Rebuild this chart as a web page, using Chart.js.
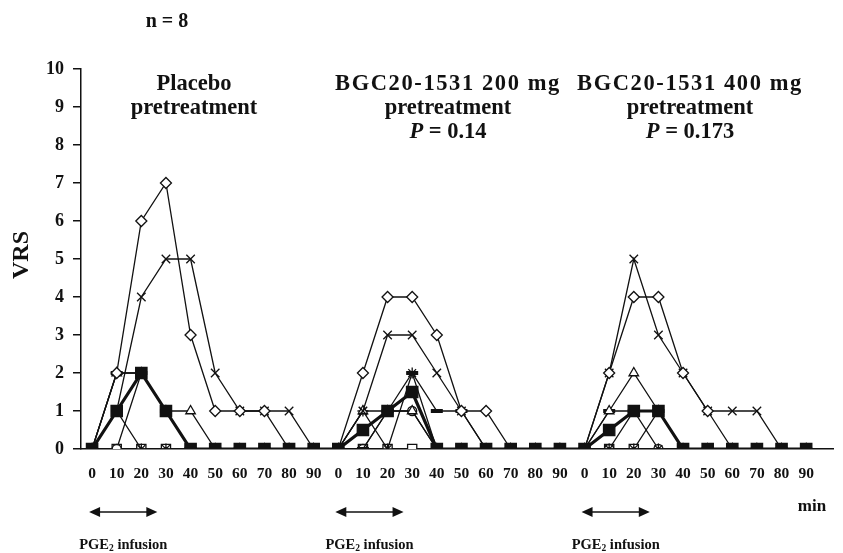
<!DOCTYPE html>
<html>
<head>
<meta charset="utf-8">
<script src="https://cdn.jsdelivr.net/npm/chart.js@4"></script>
<style>
  body { margin: 0; background: #fff; }
  #wrap { width: 843px; height: 553px; }
</style>
</head>
<body>
<div id="wrap"><canvas id="myChart" width="843" height="553"></canvas></div>
<script>
// minutes after start, repeated for each of the three panels
const times = [0, 10, 20, 30, 40, 50, 60, 70, 80, 90];
const panelTitles = [
  ["Placebo", "pretreatment"],
  ["BGC20-1531 200 mg", "pretreatment", "0.14"],
  ["BGC20-1531 400 mg", "pretreatment", "0.173"],
];
const yTicks = [0, 1, 2, 3, 4, 5, 6, 7, 8, 9, 10];

// VRS per subject: placebo | 200 mg | 400 mg (10 points each)
const median   = [0, 1, 2, 1, 0, 0, 0, 0, 0, 0,   0, 0.5, 1, 1.5, 0, 0, 0, 0, 0, 0,   0, 0.5, 1, 1, 0, 0, 0, 0, 0, 0];
const diamond  = [0, 2, 6, 7, 3, 1, 1, 1, 0, 0,   0, 2, 4, 4, 3, 1, 1, 0, 0, 0,       0, 2, 4, 4, 2, 1, 0, 0, 0, 0];
const cross    = [0, 1, 4, 5, 5, 2, 1, 1, 1, 0,   0, 1, 3, 3, 2, 1, 0, 0, 0, 0,       0, 2, 5, 3, 2, 1, 1, 1, 0, 0];
const triangle = [0, 2, 2, 1, 1, 0, 0, 0, 0, 0,   0, 1, 1, 1, 0, 0, 0, 0, 0, 0,       0, 1, 2, 1, 0, 0, 0, 0, 0, 0];
const dash     = [0, 2, 2, 1, 0, 0, 0, 0, 0, 0,   0, 0, 1, 2, 1, 1, 0, 0, 0, 0,       0, 1, 1, 1, 0, 0, 0, 0, 0, 0];
const star     = [0, 1, 0, 0, 0, 0, 0, 0, 0, 0,   0, 1, 0, 2, 0, 0, 0, 0, 0, 0,       0, 0, 0, 0, 0, 0, 0, 0, 0, 0];
const circle   = [0, 0, 2, 1, 0, 0, 0, 0, 0, 0,   0, 0, 1, 1, 0, 0, 0, 0, 0, 0,       0, 0, 1, 0, 0, 0, 0, 0, 0, 0];
const square   = [0, 0, 0, 0, 0, 0, 0, 0, 0, 0,   0, 0, 0, 0, 0, 0, 0, 0, 0, 0,       0, 0, 0, 1, 0, 0, 0, 0, 0, 0];
const plus     = [0, 0, 0, 0, 0, 0, 0, 0, 0, 0,   0, 0, 0, 0, 0, 0, 0, 0, 0, 0,       0, 0, 0, 0, 0, 0, 0, 0, 0, 0];

const serif = "'Liberation Serif', 'Times New Roman', serif";

const toPoints = (arr) => arr.map((y, i) => ({ x: i, y: y }));

const makeSet = function (label, arr, style, opts) {
  return Object.assign({
    label: label,
    data: toPoints(arr),
    borderColor: "#111",
    borderWidth: 1.3,
    pointStyle: style,
    pointRadius: 5,
    pointBorderWidth: 1.3,
    pointBorderColor: "#111",
    pointBackgroundColor: "#fff",
    tension: 0,
  }, opts || {});
};

// first dataset is drawn on top
const datasets = [
  makeSet("median", median, "rect", { borderWidth: 3.2, pointRadius: 8, pointBackgroundColor: "#111" }),
  makeSet("s1", diamond, "rectRot", { pointRadius: 5.5 }),
  makeSet("s2", cross, "crossRot", { pointRadius: 6 }),
  makeSet("s3", triangle, "triangle", { pointRadius: 5.5 }),
  makeSet("s4", dash, "line", { pointRadius: 6, pointBorderWidth: 4 }),
  makeSet("s5", star, "star", { pointRadius: 5.5 }),
  makeSet("s6", circle, "circle", { pointRadius: 4.5 }),
  makeSet("s7", square, "rect", { pointRadius: 6.5 }),
  makeSet("s8", plus, "cross", { pointRadius: 5 }),
];

const titleX = [194, 448, 690];

const annotate = {
  id: "annotate",
  afterDraw(chart) {
    const ctx = chart.ctx;
    const xs = chart.scales.x;
    ctx.save();
    ctx.fillStyle = "#111";
    ctx.strokeStyle = "#111";
    ctx.textAlign = "center";
    ctx.textBaseline = "middle";

    ctx.font = "bold 20px " + serif;
    ctx.fillText("n = 8", 167, 22);

    // y axis title
    ctx.save();
    ctx.translate(22, 255);
    ctx.rotate(-Math.PI / 2);
    ctx.font = "bold 24px " + serif;
    ctx.fillText("VRS", 0, 0);
    ctx.restore();

    panelTitles.forEach((lines, p) => {
      const cx = titleX[p];
      ctx.font = "bold 22.5px " + serif;
      ctx.letterSpacing = p === 0 ? "0px" : "1.6px";
      ctx.fillText(lines[0], cx, 84);
      ctx.letterSpacing = "0px";
      ctx.fillText(lines[1], cx, 108);
      if (lines[2]) {
        const a = "P", b = " = " + lines[2];
        ctx.font = "bold italic 22.5px " + serif;
        const wa = ctx.measureText(a).width;
        ctx.font = "bold 22.5px " + serif;
        const wb = ctx.measureText(b).width;
        const left = cx - (wa + wb) / 2;
        ctx.textAlign = "left";
        ctx.font = "bold italic 22.5px " + serif;
        ctx.fillText(a, left, 132);
        ctx.font = "bold 22.5px " + serif;
        ctx.fillText(b, left + wa, 132);
        ctx.textAlign = "center";
      }

      // infusion arrow 0-30 min
      const x1 = xs.getPixelForValue(p * 10) - 3;
      const x2 = xs.getPixelForValue(p * 10 + 2.65);
      const ay = 512;
      ctx.lineWidth = 1.6;
      ctx.beginPath();
      ctx.moveTo(x1 + 6, ay);
      ctx.lineTo(x2 - 6, ay);
      ctx.stroke();
      ctx.beginPath();
      ctx.moveTo(x1, ay); ctx.lineTo(x1 + 11, ay - 5); ctx.lineTo(x1 + 11, ay + 5); ctx.closePath();
      ctx.moveTo(x2, ay); ctx.lineTo(x2 - 11, ay - 5); ctx.lineTo(x2 - 11, ay + 5); ctx.closePath();
      ctx.fill();

      // PGE2 infusion label
      const lx = (x1 + x2) / 2 - 44;
      ctx.textAlign = "left";
      ctx.font = "bold 14.5px " + serif;
      ctx.fillText("PGE", lx, 545);
      let w = ctx.measureText("PGE").width;
      ctx.font = "bold 9.5px " + serif;
      ctx.fillText("2", lx + w, 549);
      w += ctx.measureText("2").width;
      ctx.font = "bold 14.5px " + serif;
      ctx.fillText(" infusion", lx + w, 545);
      ctx.textAlign = "center";
    });

    ctx.font = "bold 17px " + serif;
    ctx.fillText("min", 812, 507);
    ctx.restore();
  },
};

const config = {
  type: "line",
  data: { datasets: datasets },
  options: {
    responsive: false,
    animation: false,
    layout: { padding: { top: 69, right: 0, left: 0, bottom: 0 } },
    plugins: { legend: { display: false }, tooltip: { enabled: false } },
    scales: {
      x: {
        type: "linear",
        min: -0.45,
        max: 30.09,
        afterBuildTicks: (scale) => {
          scale.ticks = [];
          for (let i = 0; i < 30; i++) scale.ticks.push({ value: i });
        },
        afterFit: (scale) => { scale.height = 104; },
        grid: { display: false },
        border: { display: true, color: "#111", width: 1.5 },
        ticks: {
          autoSkip: false,
          maxRotation: 0,
          padding: 8,
          color: "#111",
          font: { family: serif, size: 15.5, weight: "bold" },
          callback: (v) => times[v % 10],
        },
      },
      y: {
        min: 0,
        max: 10,
        afterBuildTicks: (scale) => {
          scale.ticks = yTicks.map((v) => ({ value: v }));
        },
        afterFit: (scale) => { scale.width = 81; },
        grid: { drawOnChartArea: false, drawTicks: true, tickLength: 8, color: "#111", lineWidth: 1.5 },
        border: { display: true, color: "#111", width: 1.5 },
        ticks: {
          padding: 9,
          color: "#111",
          font: { family: serif, size: 18, weight: "bold" },
        },
      },
    },
  },
  plugins: [annotate],
};

const myChart = new Chart(document.getElementById("myChart"), config);
</script>
</body>
</html>
